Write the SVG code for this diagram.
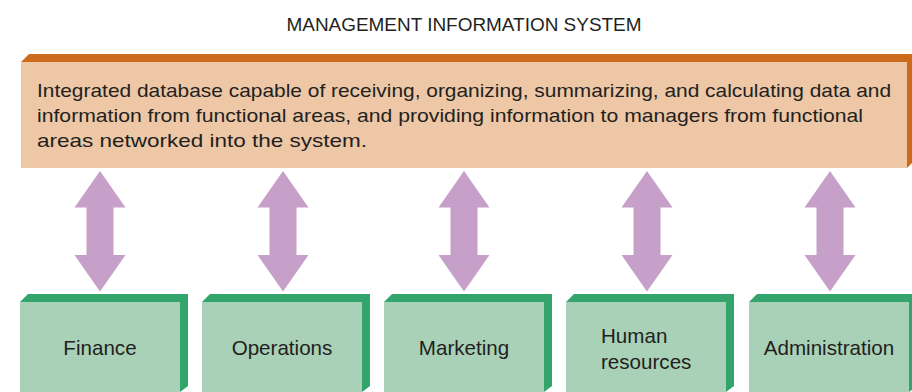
<svg xmlns="http://www.w3.org/2000/svg" width="912" height="392" viewBox="0 0 912 392">
<style>
text{font-family:"Liberation Sans",Arial,sans-serif;fill:#231F20}
.title{font-size:18px}
.body{font-size:19px}
.lbl{font-size:20.6px}
.oband{fill:#CD6B1D}
.oface{fill:#EDC7A6}
.gband{fill:#33A46B}
.gface{fill:#A8D1B7}
.arr{fill:#C6A0C9}
</style>
<defs>
<path id="dbl" class="arr" d="M0,171 L25.5,207.5 L13.5,207.5 L13.5,255 L25.5,255 L0,291.5 L-25.5,255 L-13.5,255 L-13.5,207.5 L-25.5,207.5 Z"/>
<g id="gbox">
<polygon class="gband" points="0,302 8,294 168,294 168,386 160,392 160,302"/>
<rect class="gface" x="0" y="302" width="160" height="90"/>
</g>
</defs>
<text class="title" x="464" y="31" text-anchor="middle" textLength="355" lengthAdjust="spacingAndGlyphs">MANAGEMENT INFORMATION SYSTEM</text>
<g id="mis">
<polygon class="oband" points="21,62 29,54 912,54 912,163 907,168 907,62"/>
<rect class="oface" x="21" y="62" width="886" height="106"/>
<text class="body" x="37" y="96.5" textLength="854" lengthAdjust="spacingAndGlyphs">Integrated database capable of receiving, organizing, summarizing, and calculating data and</text>
<text class="body" x="37" y="121.5" textLength="826" lengthAdjust="spacingAndGlyphs">information from functional areas, and providing information to managers from functional</text>
<text class="body" x="37" y="146.5" textLength="330" lengthAdjust="spacingAndGlyphs">areas networked into the system.</text>
</g>
<g id="connectors">
<use href="#dbl" x="100"/>
<use href="#dbl" x="283"/>
<use href="#dbl" x="464"/>
<use href="#dbl" x="647"/>
<use href="#dbl" x="830"/>
</g>
<g id="finance">
<use href="#gbox" x="20"/>
<text class="lbl" x="100" y="354.5" text-anchor="middle">Finance</text>
</g>
<g id="operations">
<use href="#gbox" x="202"/>
<text class="lbl" x="282" y="354.5" text-anchor="middle">Operations</text>
</g>
<g id="marketing">
<use href="#gbox" x="384"/>
<text class="lbl" x="464" y="354.5" text-anchor="middle">Marketing</text>
</g>
<g id="hr">
<use href="#gbox" x="566"/>
<text class="lbl" x="601" y="343">Human</text>
<text class="lbl" x="601" y="369">resources</text>
</g>
<g id="administration">
<use href="#gbox" x="749"/>
<text class="lbl" x="829" y="354.5" text-anchor="middle">Administration</text>
</g>
</svg>
